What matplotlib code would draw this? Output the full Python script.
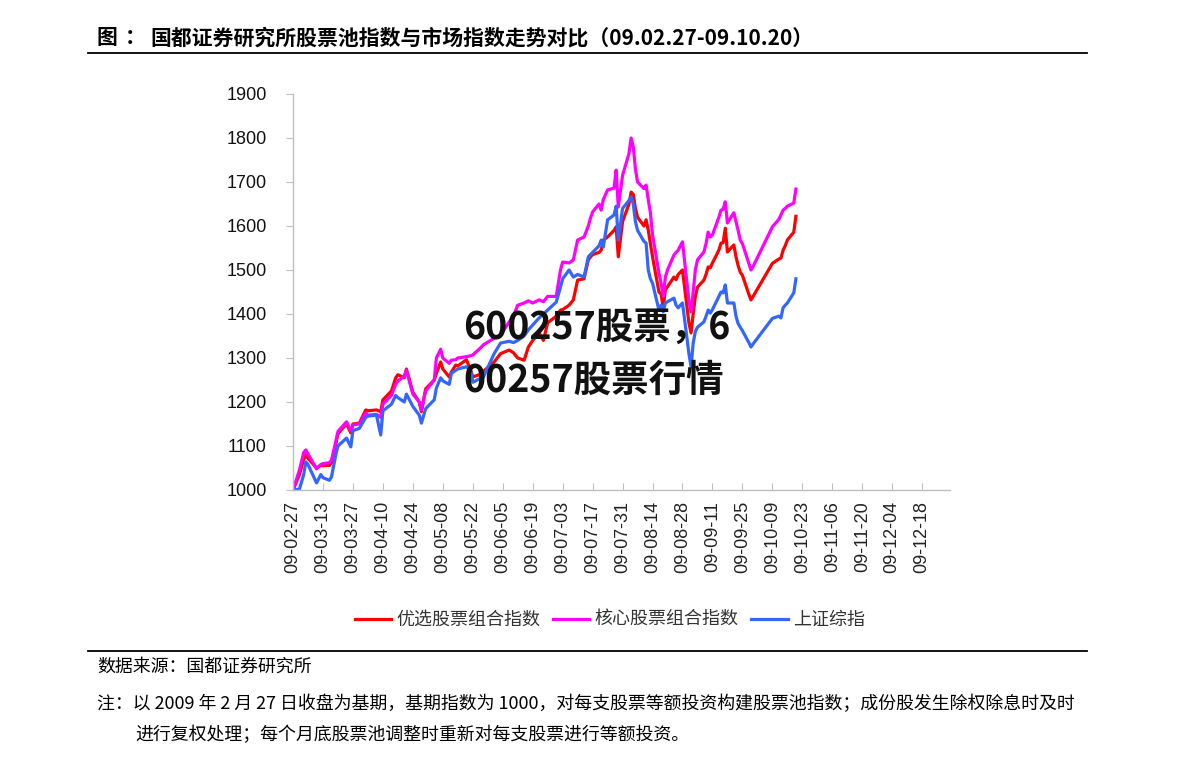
import matplotlib
matplotlib.use("Agg")
import matplotlib.pyplot as plt
import matplotlib.dates as mdates
from matplotlib.lines import Line2D
import pandas as pd

plt.rcParams['font.family'] = ['Noto Sans CJK SC', 'DejaVu Sans']

# trading days and index values
dates = [
    "2009-02-27", "2009-03-02", "2009-03-04", "2009-03-05", "2009-03-06", "2009-03-10",
    "2009-03-12", "2009-03-13", "2009-03-16", "2009-03-17", "2009-03-19", "2009-03-20",
    "2009-03-24", "2009-03-26", "2009-03-27", "2009-03-30", "2009-04-02", "2009-04-03",
    "2009-04-07", "2009-04-09", "2009-04-10", "2009-04-14", "2009-04-16", "2009-04-17",
    "2009-04-20", "2009-04-21", "2009-04-24", "2009-04-27", "2009-04-28", "2009-04-30",
    "2009-05-04", "2009-05-05", "2009-05-07", "2009-05-08", "2009-05-11", "2009-05-12",
    "2009-05-14", "2009-05-15", "2009-05-19", "2009-05-21", "2009-05-22", "2009-05-25",
    "2009-05-27", "2009-06-01", "2009-06-04", "2009-06-08", "2009-06-10", "2009-06-12",
    "2009-06-15", "2009-06-17", "2009-06-19", "2009-06-22", "2009-06-24", "2009-06-26",
    "2009-06-30", "2009-07-02", "2009-07-03", "2009-07-06", "2009-07-08", "2009-07-10",
    "2009-07-13", "2009-07-15", "2009-07-16", "2009-07-17", "2009-07-20", "2009-07-21",
    "2009-07-22", "2009-07-24", "2009-07-27", "2009-07-28", "2009-07-29", "2009-07-31",
    "2009-08-03", "2009-08-04", "2009-08-05", "2009-08-06", "2009-08-07", "2009-08-10",
    "2009-08-11", "2009-08-12", "2009-08-13", "2009-08-14", "2009-08-17", "2009-08-18",
    "2009-08-19", "2009-08-20", "2009-08-21", "2009-08-24", "2009-08-25", "2009-08-26",
    "2009-08-27", "2009-08-28", "2009-08-31", "2009-09-01", "2009-09-02", "2009-09-03",
    "2009-09-04", "2009-09-07", "2009-09-08", "2009-09-09", "2009-09-10", "2009-09-11",
    "2009-09-14", "2009-09-15", "2009-09-16", "2009-09-17", "2009-09-18", "2009-09-21",
    "2009-09-22", "2009-09-23", "2009-09-24", "2009-09-25", "2009-09-28", "2009-09-29",
    "2009-09-30", "2009-10-09", "2009-10-12", "2009-10-13", "2009-10-14", "2009-10-15",
    "2009-10-16", "2009-10-19", "2009-10-20",
]

youxuan = [
    1000, 1035, 1070, 1080, 1072, 1050,
    1056, 1055, 1056, 1062, 1105, 1128,
    1150, 1130, 1150, 1152, 1182, 1180,
    1182, 1178, 1205, 1225, 1255, 1262,
    1255, 1275, 1222, 1200, 1178, 1230,
    1250, 1265, 1291, 1275, 1257, 1268,
    1284, 1282, 1296, 1273, 1257, 1262,
    1270, 1291, 1310, 1318, 1312, 1300,
    1295, 1325, 1340, 1357, 1340, 1380,
    1395, 1409, 1410, 1420, 1432, 1477,
    1480, 1523, 1530, 1535, 1540, 1545,
    1568, 1575, 1590, 1598, 1530, 1610,
    1650, 1677, 1672, 1640, 1620, 1600,
    1614, 1591, 1560, 1530, 1450, 1445,
    1414, 1455, 1462, 1484, 1478, 1490,
    1495, 1500, 1380, 1357, 1400, 1440,
    1461, 1477, 1490, 1507, 1505, 1516,
    1545, 1561, 1562, 1595, 1541, 1557,
    1530, 1510, 1495, 1488, 1445, 1432,
    1440, 1515, 1525, 1527, 1545, 1555,
    1568, 1586, 1622,
]

hexin = [
    1000, 1045, 1085, 1091, 1082, 1048,
    1058, 1060, 1062, 1068, 1110, 1133,
    1155, 1135, 1148, 1150, 1175, 1170,
    1172, 1165, 1195, 1215, 1240, 1248,
    1258, 1272, 1218, 1200, 1182, 1225,
    1250, 1300, 1320, 1300, 1288, 1295,
    1296, 1300, 1303, 1305, 1307, 1320,
    1330, 1345, 1352, 1382, 1395, 1420,
    1425, 1430, 1425, 1432, 1428, 1440,
    1440, 1500, 1518, 1516, 1523, 1568,
    1575, 1600, 1618, 1632, 1650, 1636,
    1660, 1682, 1686, 1727, 1643, 1715,
    1765, 1800, 1780, 1730, 1700, 1685,
    1693, 1660, 1630, 1580, 1493, 1470,
    1440, 1484, 1500, 1534, 1540, 1545,
    1555, 1564, 1430, 1405, 1450, 1500,
    1523, 1541, 1560, 1586, 1575, 1580,
    1620, 1636, 1638, 1655, 1607, 1630,
    1610, 1590, 1568, 1560, 1515, 1500,
    1508, 1598, 1615, 1625, 1636, 1640,
    1645, 1652, 1684,
]

shangzheng = [
    1000, 1002, 1035, 1064, 1058, 1016,
    1035, 1028, 1022, 1030, 1080, 1100,
    1118, 1098, 1135, 1140, 1165, 1168,
    1170, 1125, 1180, 1195, 1215, 1210,
    1200, 1218, 1190, 1170, 1152, 1185,
    1205, 1232, 1255, 1248, 1240, 1265,
    1272, 1275, 1280, 1272, 1245, 1252,
    1257, 1310, 1334, 1338, 1335, 1340,
    1350, 1364, 1375, 1391, 1400, 1409,
    1427, 1461, 1480, 1500, 1484, 1490,
    1484, 1530, 1535, 1540, 1555, 1568,
    1552, 1614, 1625, 1645, 1568, 1640,
    1658, 1666, 1650, 1610, 1590, 1565,
    1561, 1500, 1480, 1470, 1409, 1420,
    1405, 1425, 1428, 1436, 1420, 1414,
    1420, 1425, 1310, 1280, 1334, 1360,
    1370, 1382, 1395, 1409, 1402, 1410,
    1440, 1450, 1448, 1466, 1425, 1425,
    1395, 1378, 1370, 1362, 1335, 1325,
    1332, 1390, 1395, 1391, 1414, 1420,
    1425, 1448, 1480,
]

series_names = ["优选股票组合指数", "核心股票组合指数", "上证综指"]
series_colors = ["#FF0000", "#FF00FF", "#3366FF"]

df = pd.DataFrame({"date": pd.to_datetime(dates), series_names[0]: youxuan,
                   series_names[1]: hexin, series_names[2]: shangzheng})

W, H = 1191, 765
fig = plt.figure(figsize=(W / 100, H / 100), dpi=100)
ax = fig.add_axes([293 / W, 1 - 490 / H, (950 - 293) / W, (490 - 94) / H])

for name, col in zip(series_names, series_colors):
    ax.plot(df["date"], df[name], color=col, lw=2.3, label=name, solid_joinstyle="round")

ax.set_ylim(1000, 1900)
ax.set_yticks(range(1000, 1901, 100))
ax.set_xlim(pd.Timestamp("2009-02-27"), pd.Timestamp("2009-12-31"))
ticks = pd.date_range("2009-02-27", "2009-12-18", freq="14D")
ax.set_xticks(ticks)
ax.xaxis.set_major_formatter(mdates.DateFormatter("%y-%m-%d"))

for s in ["top", "right"]:
    ax.spines[s].set_visible(False)
for s in ["left", "bottom"]:
    ax.spines[s].set_color("#BFBFBF")
    ax.spines[s].set_linewidth(1.0)

ax.tick_params(axis="x", direction="in", length=5, color="#BFBFBF", pad=8)
ax.tick_params(axis="y", direction="out", length=5, color="#BFBFBF", pad=14)
for lab in ax.get_xticklabels():
    lab.set_rotation(90)
    lab.set_fontfamily(["Liberation Sans", "DejaVu Sans"])
    lab.set_fontsize(13)
    lab.set_color("#222222")
for lab in ax.get_yticklabels():
    lab.set_fontfamily(["Liberation Sans", "DejaVu Sans"])
    lab.set_fontsize(13)
    lab.set_color("#111111")

leg = ax.legend(loc="center", bbox_to_anchor=(610 / W, 1 - 620 / H), bbox_transform=fig.transFigure,
                ncol=3, frameon=False, handlelength=2.0, handletextpad=0.3, columnspacing=0.7,
                prop={"size": 13})
for t in leg.get_texts():
    t.set_color("#333333")

# watermark text over the chart
fig.text(463 / W, 1 - 327 / H, "600257股票，6", fontsize=27, fontweight="bold",
         color="#111111", va="center", ha="left")
fig.text(463 / W, 1 - 380 / H, "00257股票行情", fontsize=27, fontweight="bold",
         color="#111111", va="center", ha="left")

# title and rules
title_font = ["Liberation Sans Narrow", "Noto Sans CJK SC", "DejaVu Sans"]
fig.text(97 / W, 1 - 38 / H, "图", fontsize=15, fontweight="bold", va="center", ha="left",
         family=title_font)
fig.text(125 / W, 1 - 38 / H, "：", fontsize=15, fontweight="bold", va="center", ha="left",
         family=title_font)
fig.text(150 / W, 1 - 38 / H, "国都证券研究所股票池指数与市场指数走势对比（09.02.27-09.10.20）",
         fontsize=15, fontweight="bold", va="center", ha="left", family=title_font)
fig.add_artist(Line2D([88 / W, 1087 / W], [1 - 53 / H] * 2, color="black", lw=1.3))
fig.add_artist(Line2D([88 / W, 1087 / W], [1 - 651 / H] * 2, color="black", lw=1.3))

fig.text(97 / W, 1 - 667 / H, "数据来源：国都证券研究所", fontsize=12.9, va="center", ha="left")
fig.text(97 / W, 1 - 704 / H,
         "注：以 2009 年 2 月 27 日收盘为基期，基期指数为 1000，对每支股票等额投资构建股票池指数；成份股发生除权除息时及时",
         fontsize=12.9, va="center", ha="left")
fig.text(135 / W, 1 - 735 / H, "进行复权处理；每个月底股票池调整时重新对每支股票进行等额投资。",
         fontsize=12.9, va="center", ha="left")

fig.savefig("out.png", dpi=100)
